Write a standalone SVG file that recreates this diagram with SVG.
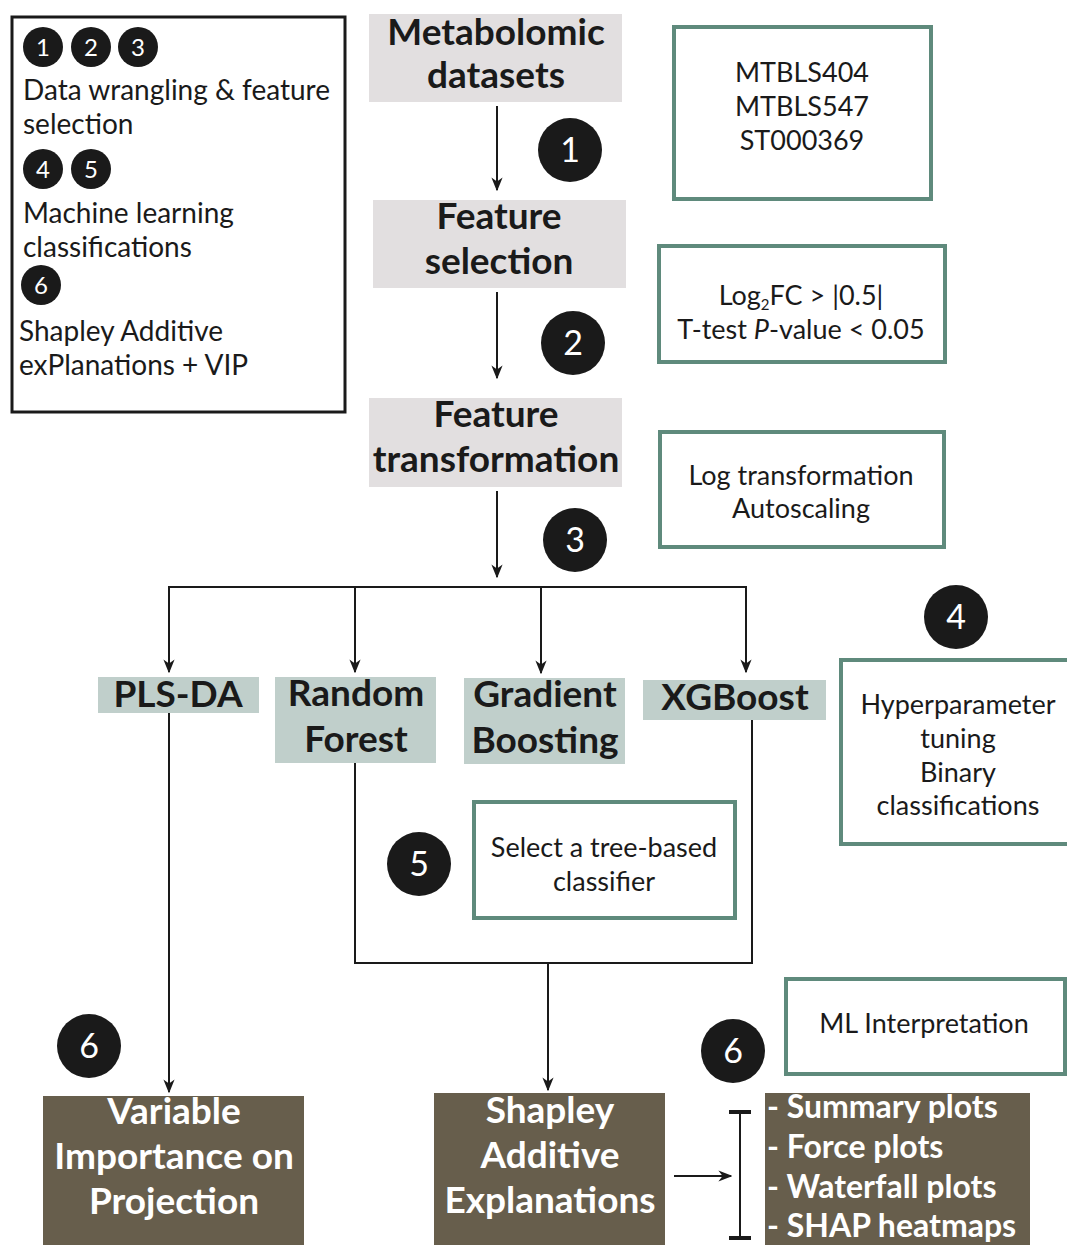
<svg xmlns="http://www.w3.org/2000/svg" width="1067" height="1245" viewBox="0 0 1067 1245">
<defs>
<marker id="ahb" viewBox="0 0 10 10" refX="9" refY="5" markerWidth="14" markerHeight="14" markerUnits="userSpaceOnUse" orient="auto">
<path d="M0,1 L10,5 L0,9 L3,5 z" fill="#1a1a1a"/>
</marker>
</defs>
<style>
text{font-family:Lato,"Open Sans","Liberation Sans",sans-serif;fill:#1a1a1a}
.leg{font-size:28px}
.hd{font-size:37px;font-weight:bold;text-anchor:middle}
.md{font-size:37px;font-weight:bold;text-anchor:middle}
.wt{font-size:37px;font-weight:bold;fill:#fff;text-anchor:middle}
.lst{font-size:32px;font-weight:bold;fill:#fff}
.nt{font-size:27px;text-anchor:middle}
.gray{fill:#e2dfe0}
.mdl{fill:#c0cfcb}
.dk{fill:#675e4c}
.teal{fill:#fff;stroke:#5f8a7c;stroke-width:4}
.cir{fill:#1a1a1a}
.cn{fill:#fff;font-size:34px;text-anchor:middle}
.cns{fill:#fff;font-size:24px;text-anchor:middle}
.ln{fill:none;stroke:#1a1a1a;stroke-width:2}
</style>

<g id="legend">
<rect x="12" y="17" width="333" height="395" fill="#fff" stroke="#1a1a1a" stroke-width="3"/>
<circle class="cir" cx="43" cy="47" r="20"/><text class="cns" x="43" y="56">1</text>
<circle class="cir" cx="91" cy="47" r="20"/><text class="cns" x="91" y="56">2</text>
<circle class="cir" cx="138" cy="47" r="20"/><text class="cns" x="138" y="56">3</text>
<text class="leg" x="23" y="100">Data wrangling &amp; feature</text>
<text class="leg" x="23" y="134">selection</text>
<circle class="cir" cx="43" cy="169" r="20"/><text class="cns" x="43" y="178">4</text>
<circle class="cir" cx="91" cy="169" r="20"/><text class="cns" x="91" y="178">5</text>
<text class="leg" x="23" y="223">Machine learning</text>
<text class="leg" x="23" y="257">classifications</text>
<circle class="cir" cx="41" cy="285" r="20"/><text class="cns" x="41" y="294">6</text>
<text class="leg" x="19" y="341">Shapley Additive</text>
<text class="leg" x="19" y="375">exPlanations + VIP</text>
</g>

<g id="metabolomic">
<rect class="gray" x="369" y="14" width="253" height="88"/>
<text class="hd" x="496" y="45">Metabolomic</text>
<text class="hd" x="496" y="88">datasets</text>
</g>
<g id="featsel">
<rect class="gray" x="373" y="200" width="253" height="88"/>
<text class="hd" x="499" y="229">Feature</text>
<text class="hd" x="499" y="274">selection</text>
</g>
<g id="feattrans">
<rect class="gray" x="369" y="398" width="253" height="89"/>
<text class="hd" x="496" y="427">Feature</text>
<text class="hd" x="496" y="472">transformation</text>
</g>

<g id="plsda">
<rect class="mdl" x="98" y="677" width="161" height="36"/>
<text class="md" x="178" y="707">PLS-DA</text>
</g>
<g id="rf">
<rect class="mdl" x="275" y="677" width="161" height="86"/>
<text class="md" x="356" y="706">Random</text>
<text class="md" x="356" y="752">Forest</text>
</g>
<g id="gb">
<rect class="mdl" x="464" y="678" width="161" height="86"/>
<text class="md" x="545" y="707">Gradient</text>
<text class="md" x="545" y="753">Boosting</text>
</g>
<g id="xgb">
<rect class="mdl" x="643" y="680" width="183" height="40"/>
<text class="md" x="735" y="710">XGBoost</text>
</g>

<g id="vip">
<rect class="dk" x="43" y="1096" width="261" height="149"/>
<text class="wt" x="174" y="1124">Variable</text>
<text class="wt" x="174" y="1169">Importance on</text>
<text class="wt" x="174" y="1214">Projection</text>
</g>
<g id="shap">
<rect class="dk" x="434" y="1093" width="231" height="152"/>
<text class="wt" x="550" y="1123">Shapley</text>
<text class="wt" x="550" y="1168">Additive</text>
<text class="wt" x="550" y="1213">Explanations</text>
</g>
<g id="plots">
<rect class="dk" x="765" y="1093" width="265" height="152"/>
<text class="lst" x="767" y="1118">- Summary plots</text>
<text class="lst" x="767" y="1158">- Force plots</text>
<text class="lst" x="767" y="1198">- Waterfall plots</text>
<text class="lst" x="767" y="1237">- SHAP heatmaps</text>
</g>

<g id="note-datasets">
<rect class="teal" x="674" y="27" width="257" height="172"/>
<text class="nt" x="802" y="82">MTBLS404</text>
<text class="nt" x="802" y="116">MTBLS547</text>
<text class="nt" x="802" y="150">ST000369</text>
</g>
<g id="note-fs">
<rect class="teal" x="659" y="246" width="286" height="116"/>
<text class="nt" x="801" y="305">Log<tspan font-size="15" dy="5">2</tspan><tspan dy="-5">FC &gt; |0.5|</tspan></text>
<text class="nt" x="801" y="339">T-test <tspan font-style="italic">P</tspan>-value &lt; 0.05</text>
</g>
<g id="note-ft">
<rect class="teal" x="660" y="432" width="284" height="115"/>
<text class="nt" x="801" y="485">Log transformation</text>
<text class="nt" x="801" y="518">Autoscaling</text>
</g>
<g id="note-hp">
<rect class="teal" x="841" y="660" width="230" height="184"/>
<text class="nt" x="958" y="714">Hyperparameter</text>
<text class="nt" x="958" y="748">tuning</text>
<text class="nt" x="958" y="782">Binary</text>
<text class="nt" x="958" y="815">classifications</text>
</g>
<g id="note-tree">
<rect class="teal" x="474" y="802" width="261" height="116"/>
<text class="nt" x="604" y="857">Select a tree-based</text>
<text class="nt" x="604" y="891">classifier</text>
</g>
<g id="note-ml">
<rect class="teal" x="786" y="979" width="279" height="95"/>
<text class="nt" x="924" y="1033">ML Interpretation</text>
</g>

<g id="steps">
<circle class="cir" cx="570" cy="150" r="32"/><text class="cn" x="570" y="162">1</text>
<circle class="cir" cx="573" cy="343" r="32"/><text class="cn" x="573" y="355">2</text>
<circle class="cir" cx="575" cy="540" r="32"/><text class="cn" x="575" y="552">3</text>
<circle class="cir" cx="956" cy="617" r="32"/><text class="cn" x="956" y="629">4</text>
<circle class="cir" cx="419" cy="864" r="32"/><text class="cn" x="419" y="876">5</text>
<circle class="cir" cx="89" cy="1046" r="32"/><text class="cn" x="89" y="1058">6</text>
<circle class="cir" cx="733" cy="1051" r="32"/><text class="cn" x="733" y="1063">6</text>
</g>

<g id="connectors">
<line class="ln" x1="497" y1="106" x2="497" y2="190" marker-end="url(#ahb)"/>
<line class="ln" x1="497" y1="292" x2="497" y2="378" marker-end="url(#ahb)"/>
<line class="ln" x1="497" y1="491" x2="497" y2="577" marker-end="url(#ahb)"/>
<polyline class="ln" points="169,600 169,587 746,587 746,672" marker-end="url(#ahb)"/>
<line class="ln" x1="169" y1="587" x2="169" y2="672" marker-end="url(#ahb)"/>
<line class="ln" x1="355" y1="587" x2="355" y2="672" marker-end="url(#ahb)"/>
<line class="ln" x1="541" y1="587" x2="541" y2="673" marker-end="url(#ahb)"/>
<polyline class="ln" points="355,763 355,963 752,963 752,720"/>
<line class="ln" x1="548" y1="963" x2="548" y2="1090" marker-end="url(#ahb)"/>
<line class="ln" x1="169" y1="713" x2="169" y2="1092" marker-end="url(#ahb)"/>
<line class="ln" x1="674" y1="1176" x2="731" y2="1176" marker-end="url(#ahb)"/>
<line class="ln" x1="740" y1="1112" x2="740" y2="1238"/>
<line x1="729" y1="1112" x2="751" y2="1112" stroke="#1a1a1a" stroke-width="4"/>
<line x1="729" y1="1238" x2="751" y2="1238" stroke="#1a1a1a" stroke-width="4"/>
</g>
</svg>
